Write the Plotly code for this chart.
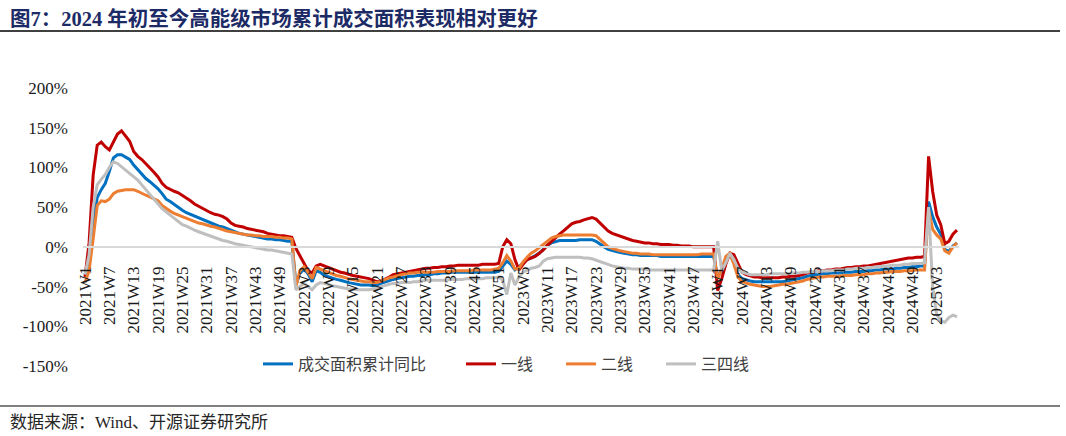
import plotly.graph_objects as go

# ---------------- categories / tick labels ----------------
years = [2021, 2022, 2023, 2024]
weeks = [f"{y}W{w}" for y in years for w in range(1, 53)] + [f"2025W{w}" for w in range(1, 9)]
tick_labels = weeks[::6]

# ---------------- series values (%) ----------------
total_2021 = [-35, -15, 30, 62, 72, 80, 95, 112, 116, 116, 113, 110, 103, 97, 92, 86, 82, 78, 73, 67,
              60, 57, 53, 50, 46, 43, 41, 38, 36, 34, 32, 30, 28, 26, 25, 23, 21, 19, 17, 16,
              15, 14, 13, 12, 11, 10, 10, 9, 9, 8, 7, 7]
total_2022 = [-48, -33, -28, -34, -44, -30, -32, -36, -38, -39, -41, -42, -44, -45, -46, -47, -48, -48, -48, -49,
              -48, -46, -44, -42, -41, -40, -39, -38, -37, -37, -36, -36, -35, -35, -34, -34, -33, -33, -32, -32,
              -32, -32, -32, -32, -32, -32, -32, -32, -32, -32, -31, -25]
total_2023 = [-18, -22, -29, -25, -20, -16, -14, -11, -8, -3, 2, 5, 7, 8, 8, 8, 8, 8, 9, 9,
              9, 9, 7, 3, 0, -3, -5, -6, -7, -8, -9, -10, -10, -11, -11, -11, -11, -11, -12, -12,
              -12, -12, -12, -12, -12, -12, -12, -12, -12, -12, -12, -12]
total_2024 = [-38, -30, -15, -9, -20, -35, -40, -42, -43, -44, -44, -44, -44, -44, -44, -44, -44, -43, -42, -41,
              -40, -39, -37, -36, -35, -35, -34, -34, -33, -33, -33, -32, -32, -32, -31, -31, -31, -30, -30, -29,
              -29, -28, -28, -28, -27, -27, -26, -26, -25, -25, -24, -24]
total_2025 = [57, 38, 25, 16, -3, -6, 1, 5]

tier1_2021 = [-38, 5, 90, 128, 132, 126, 122, 132, 142, 146, 140, 133, 120, 114, 110, 105, 100, 94, 88, 80,
              75, 72, 70, 68, 65, 62, 58, 54, 51, 48, 46, 43, 41, 40, 38, 35, 30, 27, 26, 25,
              23, 22, 21, 20, 19, 17, 16, 15, 14, 14, 13, 12]
tier1_2022 = [-2, -12, -22, -30, -33, -24, -22, -24, -27, -29, -31, -32, -33, -35, -36, -37, -38, -39, -40, -42,
              -44, -43, -41, -38, -35, -34, -33, -32, -31, -30, -29, -28, -27, -27, -26, -26, -25, -25, -24, -24,
              -23, -23, -23, -23, -23, -23, -22, -22, -22, -22, -21, 0]
tier1_2023 = [9, 4, -16, -29, -22, -16, -14, -12, -8, -4, 2, 7, 12, 16, 20, 25, 29, 31, 32, 34,
              36, 37, 35, 30, 24, 20, 17, 15, 13, 12, 10, 8, 7, 6, 5, 5, 4, 4, 3, 3,
              3, 2, 2, 1, 1, 1, 0, 0, 0, 0, 0, 0]
tier1_2024 = [-55, -40, -22, -8, -10, -22, -32, -35, -37, -38, -38, -39, -39, -39, -39, -39, -38, -38, -37, -37,
              -36, -35, -33, -32, -31, -30, -30, -29, -29, -28, -28, -27, -26, -26, -25, -25, -24, -24, -23, -22,
              -21, -20, -19, -18, -17, -16, -15, -14, -14, -13, -13, -12]
tier1_2025 = [114, 70, 40, 28, 4, 7, 16, 21]

tier2_2021 = [-45, -30, 10, 52, 58, 57, 60, 67, 70, 71, 72, 72, 72, 70, 67, 65, 63, 61, 58, 52,
              48, 45, 42, 40, 37, 36, 34, 32, 30, 29, 27, 26, 25, 23, 22, 20, 19, 18, 17, 16,
              15, 15, 14, 14, 13, 13, 13, 12, 12, 11, 11, 10]
tier2_2022 = [-50, -30, -25, -32, -40, -26, -28, -31, -33, -34, -36, -37, -39, -40, -41, -42, -43, -44, -44, -45,
              -45, -43, -41, -39, -38, -36, -35, -34, -33, -33, -32, -32, -32, -32, -32, -31, -31, -31, -31, -30,
              -30, -30, -30, -30, -29, -29, -29, -29, -29, -28, -27, -20]
tier2_2023 = [-11, -18, -28, -27, -19, -13, -8, -5, -1, 3, 8, 11, 13, 14, 15, 15, 15, 15, 15, 15,
              15, 15, 14, 9, 5, 0, -2, -4, -5, -6, -7, -8, -8, -9, -9, -9, -10, -10, -10, -10,
              -10, -10, -10, -10, -10, -10, -10, -10, -9, -9, -9, -9]
tier2_2024 = [-40, -28, -12, -8, -22, -38, -44, -46, -47, -48, -49, -50, -50, -50, -49, -48, -47, -47, -46, -45,
              -44, -43, -41, -40, -39, -38, -38, -37, -37, -37, -37, -36, -36, -36, -35, -35, -35, -34, -34, -33,
              -33, -32, -32, -31, -31, -31, -30, -30, -30, -29, -29, -29]
tier2_2025 = [47, 22, 15, 10, -5, -8, 0, 5]

tier34_2021 = [-35, -10, 50, 78, 85, 91, 100, 107, 105, 101, 97, 93, 88, 84, 78, 72, 66, 60, 55, 48,
               44, 40, 36, 32, 28, 26, 23, 21, 19, 17, 15, 13, 11, 10, 8, 7, 5, 4, 3, 2,
               1, 0, -1, -2, -3, -4, -4, -5, -6, -7, -8, -9]
tier34_2022 = [-54, -50, -46, -50, -54, -48, -45, -46, -48, -49, -50, -51, -52, -53, -53, -54, -54, -54, -54, -53,
               -52, -50, -48, -47, -46, -46, -45, -45, -45, -44, -44, -43, -42, -42, -42, -42, -42, -42, -41, -41,
               -41, -41, -40, -40, -40, -40, -40, -39, -39, -39, -38, -42]
tier34_2023 = [-60, -33, -48, -38, -32, -29, -27, -26, -24, -18, -15, -14, -13, -13, -13, -13, -13, -13, -13, -14,
               -14, -15, -17, -19, -21, -23, -24, -25, -26, -27, -27, -28, -28, -28, -28, -29, -29, -29, -29, -29,
               -29, -29, -29, -29, -29, -29, -29, -29, -29, -29, -29, -29]
tier34_2024 = [7, -30, -20, -8, -16, -27, -32, -34, -35, -35, -35, -35, -35, -34, -34, -34, -34, -34, -33, -33,
               -33, -32, -32, -31, -31, -31, -30, -30, -30, -29, -29, -29, -28, -28, -27, -27, -27, -26, -26, -25,
               -25, -24, -24, -23, -23, -23, -22, -22, -21, -21, -21, -20]
tier34_2025 = [50, -50, -85, -93, -95, -89, -86, -88]

total = total_2021 + total_2022 + total_2023 + total_2024 + total_2025
tier1 = tier1_2021 + tier1_2022 + tier1_2023 + tier1_2024 + tier1_2025
tier2 = tier2_2021 + tier2_2022 + tier2_2023 + tier2_2024 + tier2_2025
tier34 = tier34_2021 + tier34_2022 + tier34_2023 + tier34_2024 + tier34_2025

series_names = ["成交面积累计同比", "一线", "二线", "三四线"]
series_colors = ["#0070C0", "#C00000", "#ED7D31", "#BFBFBF"]
series_data = [total, tier1, tier2, tier34]

# ---------------- geometry (px) ----------------
W, H = 1066, 436
L, R, T, B = 83, 107, 88, 70
PW, PH = W - L - R, H - T - B
def px(x):
    return (x - L) / PW
def py(y):
    return (H - B - y) / PH

serif = "Liberation Serif"
cjk = "Noto Sans CJK SC"

fig = go.Figure()
legend_names = ["legend", "legend2", "legend3", "legend4"]
for name, color, data, lg in zip(series_names, series_colors, series_data, legend_names):
    fig.add_trace(go.Scatter(x=weeks, y=data, mode="lines", name=name,
                             line=dict(color=color, width=3), legend=lg))

legend_left = [258, 461, 561, 661]
legend_common = dict(orientation="h", yanchor="middle", y=py(364), xanchor="left",
                     bgcolor="rgba(0,0,0,0)", font=dict(family=cjk, size=16, color="#404040"))
layout_legends = {}
for lg, xl in zip(legend_names, legend_left):
    layout_legends[lg] = dict(x=px(xl), **legend_common)

fig.update_layout(
    template="none",
    width=W, height=H,
    margin=dict(l=L, r=R, t=T, b=B),
    paper_bgcolor="white", plot_bgcolor="white",
    showlegend=True,
    **layout_legends,
    xaxis=dict(type="category", anchor="free", position=150 / 350,
               showline=True, linecolor="#D9D9D9", linewidth=1.5,
               showgrid=False, zeroline=False, ticks="",
               tickmode="array", tickvals=tick_labels, ticktext=tick_labels,
               tickangle=-90, ticklabelstandoff=12, automargin=False,
               tickfont=dict(family=serif, size=17, color="#1a1a1a"),
               range=[-0.5, len(weeks) - 0.5]),
    yaxis=dict(range=[-150, 200], tickmode="array",
               tickvals=[-150, -100, -50, 0, 50, 100, 150, 200],
               ticktext=["-150%", "-100%", "-50%", "0%", "50%", "100%", "150%", "200%"],
               showgrid=False, zeroline=False, showline=False, ticks="",
               ticklabelstandoff=14, automargin=False,
               tickfont=dict(family=serif, size=17, color="#1a1a1a")),
)

fig.add_annotation(xref="paper", yref="paper", x=px(8), y=py(18), xanchor="left", yanchor="middle",
                   text="<b>图7：2024 年初至今高能级市场累计成交面积表现相对更好</b>", showarrow=False,
                   font=dict(family=f"{serif}, {cjk}", size=20.5, color="#1C2A66"))
fig.add_annotation(xref="paper", yref="paper", x=px(8), y=py(422), xanchor="left", yanchor="middle",
                   text="数据来源：Wind、开源证券研究所", showarrow=False,
                   font=dict(family=f"{serif}, {cjk}", size=17, color="#262626"))
fig.add_shape(type="line", xref="paper", yref="paper", x0=px(0), x1=px(1060), y0=py(31), y1=py(31),
              line=dict(color="#000000", width=1.5))
fig.add_shape(type="line", xref="paper", yref="paper", x0=px(0), x1=px(1060), y0=py(406), y1=py(406),
              line=dict(color="#808080", width=2))

fig.write_html("out.html")
